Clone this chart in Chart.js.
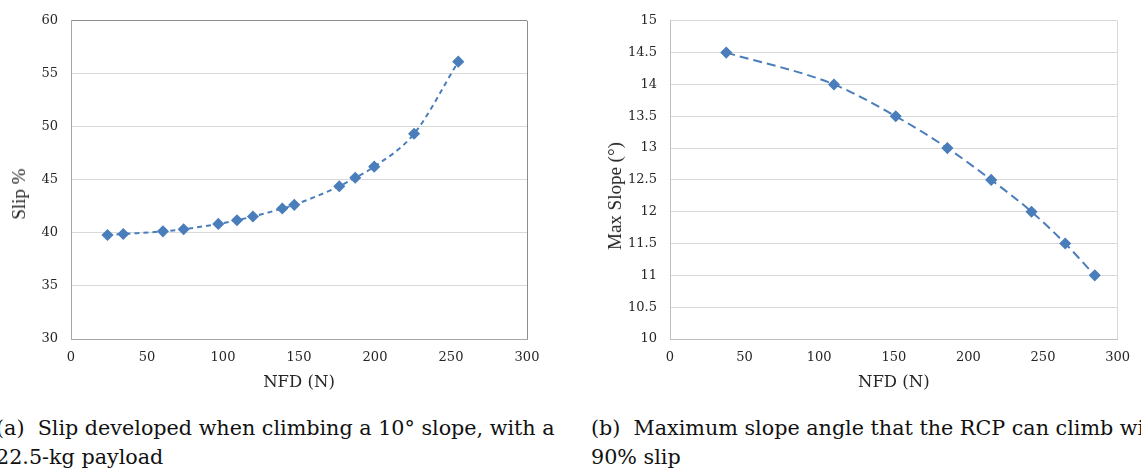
<!DOCTYPE html>
<html>
<head>
<meta charset="utf-8">
<script src="https://cdn.jsdelivr.net/npm/chart.js@4.4.1/dist/chart.umd.min.js"></script>
<style>
  body { margin: 0; background: #fff; width: 1141px; height: 470px; overflow: hidden; position: relative; }
  .box { position: absolute; top: 0; height: 395px; }
  .ytitle { position: absolute; font: 19px "Liberation Serif", serif; color: #262626;
            transform: translate(-50%, -50%) rotate(-90deg); white-space: nowrap; }
  .caption { position: absolute; top: 414px; font: 20.7px "DejaVu Serif", serif; line-height: 29px; color: #111; white-space: nowrap; }
</style>
</head>
<body>
<div class="box" style="left:0;width:570px"><canvas id="slip"></canvas></div>
<div class="box" style="left:580px;width:561px"><canvas id="slope"></canvas></div>
<div class="ytitle" style="left:19px;top:194px">Slip %</div>
<div class="ytitle" style="left:615px;top:196px">Max Slope (°)</div>
<div class="caption" style="left:-4px">(a)&nbsp; Slip developed when climbing a 10° slope, with a<br>22.5-kg payload</div>
<div class="caption" style="left:591px">(b)&nbsp; Maximum slope angle that the RCP can climb with<br>90% slip</div>
<script>
// (a) slip vs normal force, 10 degree slope
var slipNfd = [24, 34.4, 60.5, 74.1, 96.9, 109.2, 119.7, 139, 146.9, 176.5, 187, 199.5, 225.7, 254.8];
var slipPct = [39.8, 39.9, 40.15, 40.35, 40.85, 41.2, 41.55, 42.3, 42.65, 44.4, 45.2, 46.25, 49.35, 56.15];
// (b) max climbable slope at 90% slip
var slopeNfd = [37.7, 109.9, 151.3, 185.9, 215.3, 242.3, 264.9, 284.7];
var maxSlope = [14.5, 14, 13.5, 13, 12.5, 12, 11.5, 11];

var nfdTicks = [0, 50, 100, 150, 200, 250, 300];
var slipTicks = [30, 35, 40, 45, 50, 55, 60];
var slopeTicks = [10, 10.5, 11, 11.5, 12, 12.5, 13, 13.5, 14, 14.5, 15];

var blue = "#4a7ebb";

// canvas only resolves DejaVu Serif here, so size it down to Times widths
Chart.defaults.font.family = "'DejaVu Serif'";
Chart.defaults.font.size = 13;
Chart.defaults.color = "#262626";

function pts(xs, ys) {
	var out = [];
	for (var i = 0; i < xs.length; i++) out.push({ x: xs[i], y: ys[i] });
	return out;
}

function plain(v) { return String(v); }

function makeChart(id, xs, ys, yTicks, dash, frame, axisCol, yWidth, padRight) {
	var xMax = nfdTicks[nfdTicks.length - 1];
	var yMax = yTicks[yTicks.length - 1];
	return new Chart(document.getElementById(id), {
		type: "scatter",
		data: {
			datasets: [{
				data: pts(xs, ys),
				showLine: true,
				borderColor: blue,
				borderWidth: 2,
				borderDash: dash,
				cubicInterpolationMode: "monotone",
				pointStyle: "rectRot",
				pointRadius: 5,
				pointBorderWidth: 1.5,
				pointBackgroundColor: blue,
				pointBorderColor: blue
			}]
		},
		options: {
			responsive: true,
			maintainAspectRatio: false,
			animation: false,
			layout: { padding: { left: 0, right: padRight, top: 9, bottom: 0 } },
			plugins: { legend: { display: false }, tooltip: { enabled: false } },
			scales: {
				x: {
					type: "linear",
					min: nfdTicks[0], max: xMax,
					afterBuildTicks: function(s) { s.ticks = nfdTicks.map(function(v) { return { value: v }; }); },
					afterFit: function(s) { s.height = 56; },
					border: { color: axisCol },
					grid: {
						drawTicks: false,
						color: function(c) { return c.tick && c.tick.value === xMax ? frame : "transparent"; }
					},
					ticks: { padding: 11, callback: plain },
					title: { display: true, text: "NFD (N)", font: { size: 16.5 }, padding: { top: 4, bottom: 2 } }
				},
				y: {
					min: yTicks[0], max: yMax,
					afterBuildTicks: function(s) { s.ticks = yTicks.map(function(v) { return { value: v }; }); },
					afterFit: function(s) { s.width = yWidth; },
					border: { color: axisCol },
					grid: {
						drawTicks: false,
						color: function(c) { return c.tick && c.tick.value === yMax ? frame : "#d9d9d9"; }
					},
					ticks: { padding: 13, callback: plain }
				}
			}
		}
	});
}

makeChart("slip", slipNfd, slipPct, slipTicks, [5, 4], "#8c8c8c", "#a6a6a6", 71, 43);
makeChart("slope", slopeNfd, maxSlope, slopeTicks, [9, 5], "#d9d9d9", "#bfbfbf", 90, 19);
</script>
</body>
</html>
